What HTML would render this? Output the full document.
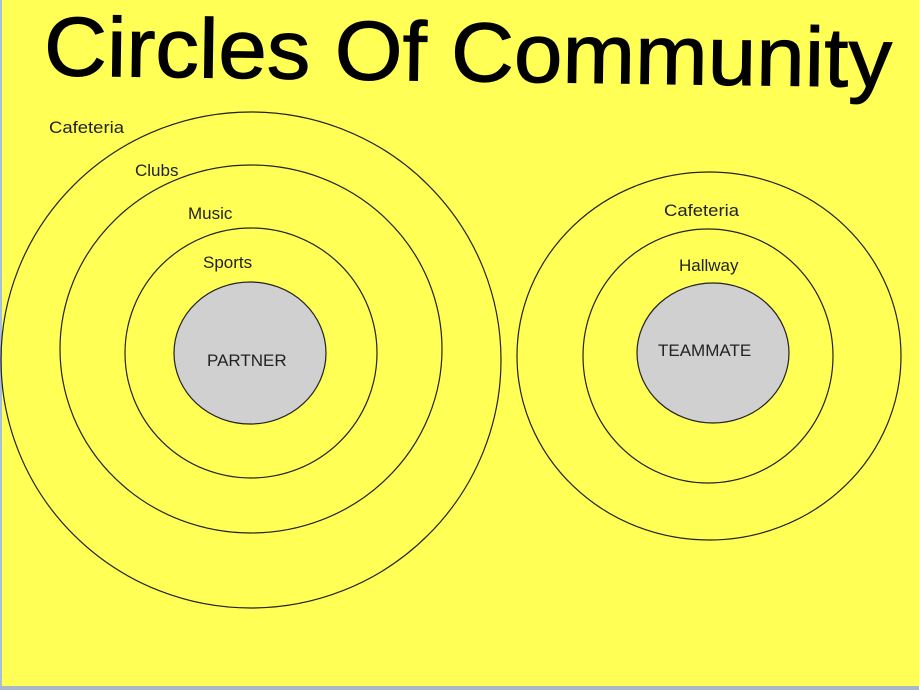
<!DOCTYPE html>
<html><head><style>
html,body{margin:0;padding:0;}
body{width:919px;height:690px;overflow:hidden;background:#ffff55;}
svg{display:block;}
</style></head><body>
<svg width="919" height="690" xmlns="http://www.w3.org/2000/svg">
<rect width="919" height="690" fill="#ffff55"/>
<rect x="0" y="0" width="2" height="690" fill="#a8c0d8"/>
<rect x="0" y="686" width="919" height="4" fill="#a8b8c8"/>
<text x="44" y="81" font-family="Liberation Sans, sans-serif" font-size="84" fill="#000" stroke="#000" stroke-width="1" textLength="848" lengthAdjust="spacingAndGlyphs" transform="rotate(0.8 460 55)">Circles Of Community</text>
<g fill="none" stroke="#222" stroke-width="1.2">
<ellipse cx="251" cy="360" rx="250" ry="248"/>
<ellipse cx="251" cy="349" rx="191" ry="184"/>
<ellipse cx="251" cy="353" rx="126" ry="125"/>
<ellipse cx="709" cy="356" rx="192" ry="184"/>
<ellipse cx="708" cy="356" rx="125" ry="127"/>
</g>
<ellipse cx="250" cy="353" rx="76" ry="71" fill="#d0d0d0" stroke="#222" stroke-width="1.2"/>
<ellipse cx="713" cy="353" rx="76" ry="70" fill="#d0d0d0" stroke="#222" stroke-width="1.2"/>
<g font-family="Liberation Sans, sans-serif" font-size="17" fill="#222">
<text x="49" y="133" textLength="75" lengthAdjust="spacingAndGlyphs">Cafeteria</text>
<text x="135" y="176">Clubs</text>
<text x="188" y="219">Music</text>
<text x="203" y="268">Sports</text>
<text x="207" y="366">PARTNER</text>
<text x="664" y="216" textLength="75" lengthAdjust="spacingAndGlyphs">Cafeteria</text>
<text x="679" y="271">Hallway</text>
<text x="658" y="356">TEAMMATE</text>
</g>
</svg>
</body></html>
